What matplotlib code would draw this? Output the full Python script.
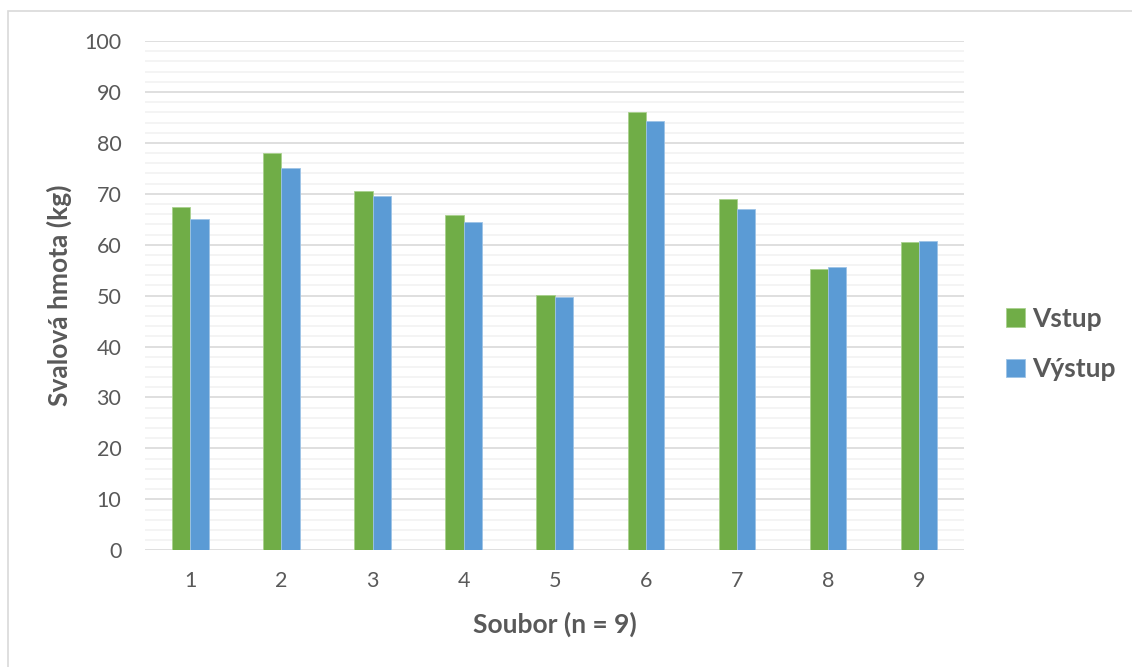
import numpy as np
import matplotlib.pyplot as plt
from matplotlib.patches import Rectangle

categories = ['1', '2', '3', '4', '5', '6', '7', '8', '9']
vstup = [67.4, 78.0, 70.5, 65.8, 50.2, 86.0, 68.9, 55.3, 60.6]
vystup = [65.0, 75.0, 69.5, 64.4, 49.7, 84.2, 67.0, 55.6, 60.8]

plt.rcParams['font.family'] = ['Lato', 'DejaVu Sans']

fig = plt.figure(figsize=(11.32, 6.67), dpi=100)
ax = fig.add_axes([0.128, 0.175, 0.724, 0.7635])

x = np.arange(1, len(categories) + 1)
w = 0.2
ax.bar(x - w / 2, vstup, w, color='#70AD47', edgecolor='#A9D18E', linewidth=0.6, label='Vstup', zorder=3)
ax.bar(x + w / 2, vystup, w, color='#5B9BD5', edgecolor='#9DC3E6', linewidth=0.6, label='Výstup', zorder=3)

ax.set_xlim(0.5, 9.5)
ax.set_ylim(0, 100)
ax.set_yticks(np.arange(0, 101, 10))
ax.set_yticks(np.arange(0, 101, 2), minor=True)
ax.set_xticks(x)
ax.set_xticklabels(categories)
ax.grid(axis='y', which='major', color='#D9D9D9', linewidth=1.2, zorder=0)
ax.grid(axis='y', which='minor', color='#F2F2F2', linewidth=1.2, zorder=0)
ax.tick_params(axis='both', which='both', length=0, labelsize=15.5, labelcolor='#595959')
ax.tick_params(axis='x', pad=15)
ax.tick_params(axis='y', pad=17)
for s in ax.spines.values():
    s.set_visible(False)

ax.set_xlabel('Soubor (n = 9)', fontsize=19, fontweight='bold', color='#595959', labelpad=15)
ax.set_ylabel('Svalová hmota (kg)', fontsize=19, fontweight='bold', color='#595959', labelpad=9)

leg = ax.legend(loc='center left', bbox_to_anchor=(1.038, 0.405), frameon=False,
                prop={'size': 19, 'weight': 'bold'}, labelcolor='#595959',
                handlelength=0.7, handleheight=0.7, handletextpad=0.3, labelspacing=1.0,
                borderpad=0.2, borderaxespad=0.2)

fig.patches.append(Rectangle((8 / 1132, -0.1), 1.2, 1 - 11 / 667 + 0.1, transform=fig.transFigure,
                             fill=False, edgecolor='#D9D9D9', linewidth=1.2))

fig.savefig('out.png', dpi=100)
